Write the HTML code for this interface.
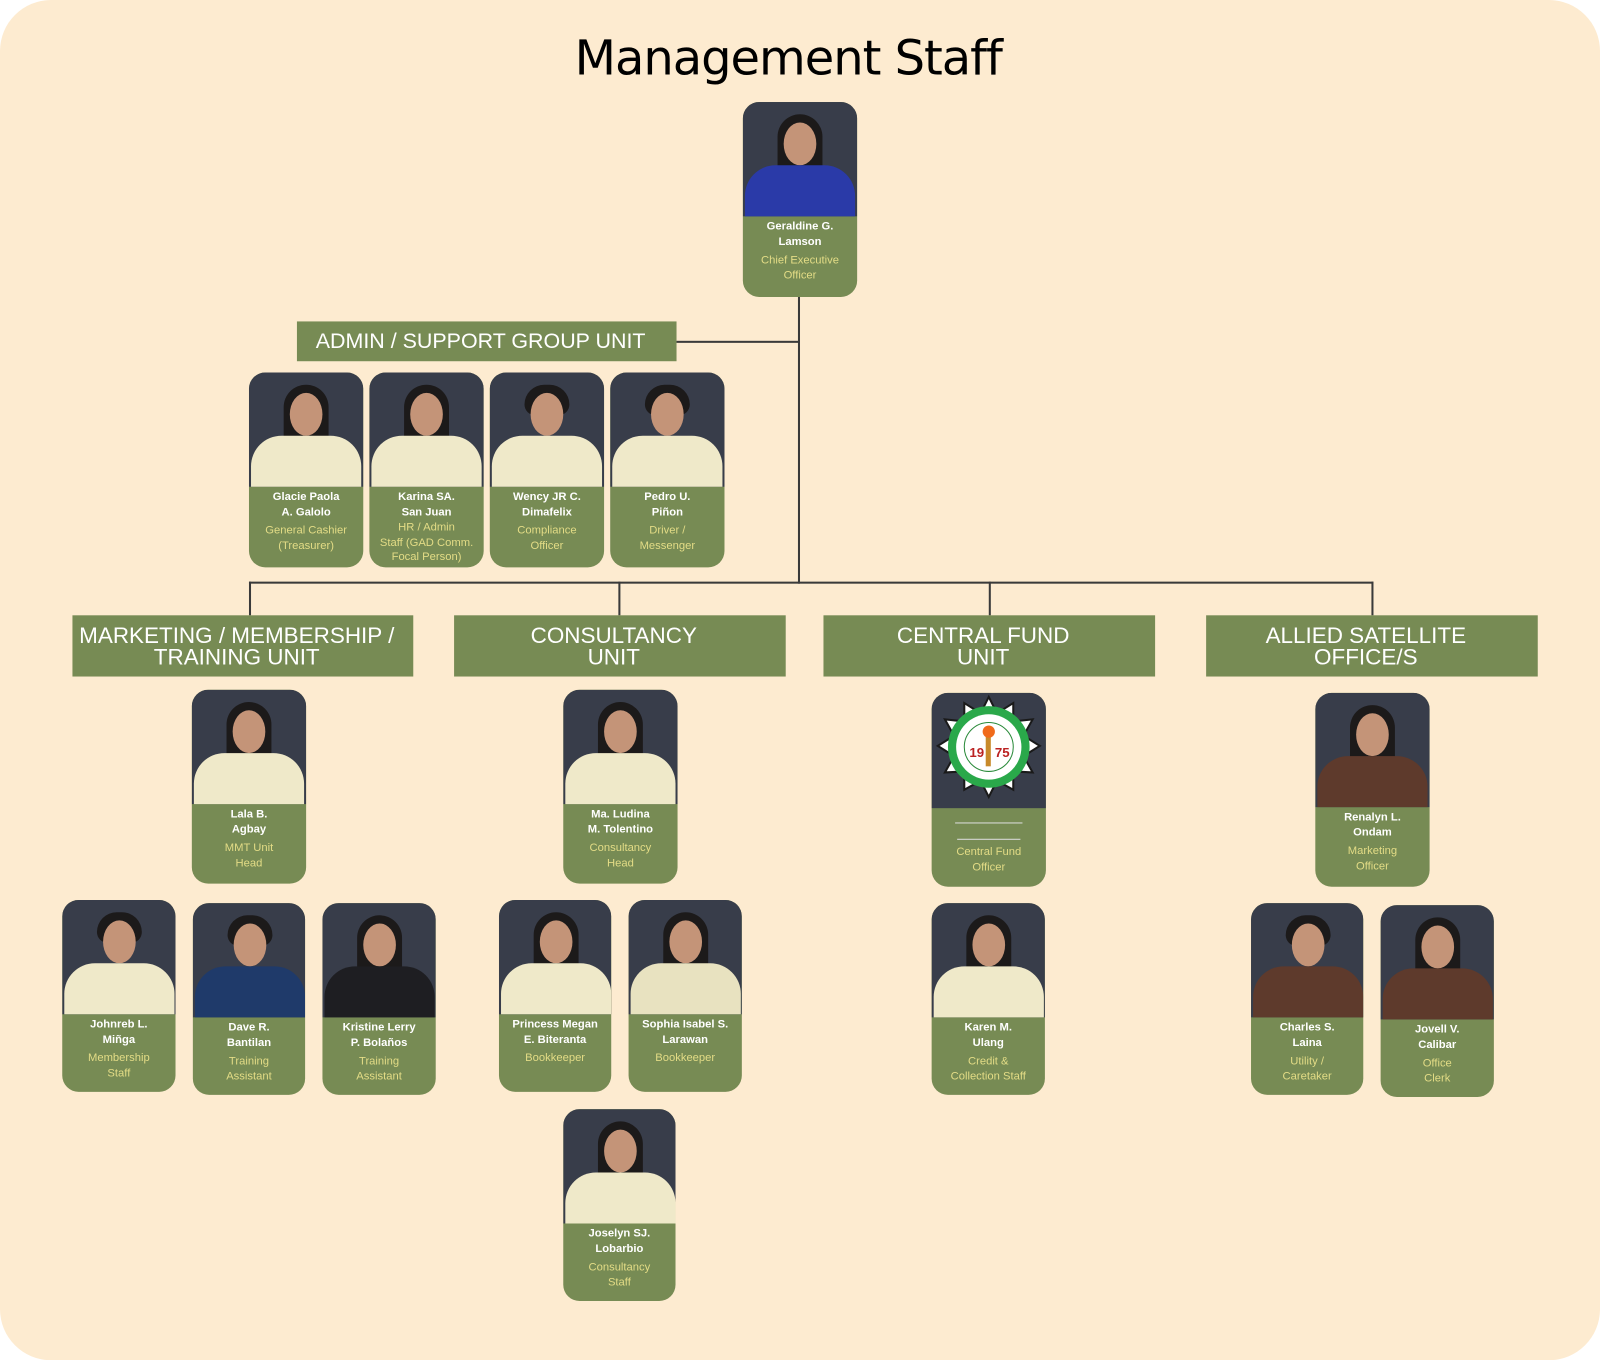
<!DOCTYPE html>
<html><head><meta charset="utf-8"><style>
html,body{margin:0;padding:0;background:#fff;}
#root{position:relative;width:1600px;height:1360px;overflow:hidden;}
#w{position:absolute;left:0;top:0;width:1568px;height:1333px;transform:scale(1.02041);transform-origin:0 0;background:#fdebd0;border-radius:50px;font-family:"Liberation Sans",Arial,sans-serif;}
.title{position:absolute;left:0;width:1545px;top:30px;text-align:center;font-size:47px;color:#000;font-family:"DejaVu Sans","Liberation Sans",sans-serif;letter-spacing:-1px;}
.ln{position:absolute;background:#3a3a3a;}
.hd{position:absolute;background:#778b54;color:#fff;font-size:22px;line-height:21px;text-align:center;display:flex;align-items:center;justify-content:center;box-sizing:border-box;padding-right:12px;}
.c{position:absolute;width:112px;height:190px;border-radius:16px;background:#778b54;overflow:hidden;text-align:center;}
.ph{position:relative;height:112px;background:#383d4a;overflow:hidden;}
.hair{position:absolute;left:34px;top:12px;width:44px;height:66px;border-radius:22px 22px 12px 12px;background:#1c1a1a;}
.face{position:absolute;left:40px;top:20px;width:32px;height:42px;border-radius:50%;background:#c49478;}
.bd{position:absolute;left:2px;top:62px;width:108px;height:60px;border-radius:30px 30px 0 0;background:#efe9c9;}
.n{color:#fff;font-weight:bold;font-size:11px;line-height:15px;margin-top:3px;}
.t{color:#e3dc86;font-size:11px;line-height:15px;margin-top:3px;}
</style></head><body><div id="root"><div id="w">
<div class="title">Management Staff</div>

<div class="ln" style="left:782px;top:291px;width:1.5px;height:281px"></div>
<div class="ln" style="left:663px;top:334px;width:120px;height:1.5px"></div>
<div class="ln" style="left:244px;top:570px;width:1102px;height:1.5px"></div>
<div class="ln" style="left:244px;top:570px;width:1.5px;height:33px"></div>
<div class="ln" style="left:606px;top:570px;width:1.5px;height:33px"></div>
<div class="ln" style="left:969px;top:570px;width:1.5px;height:33px"></div>
<div class="ln" style="left:1344px;top:570px;width:1.5px;height:33px"></div>

<div class="hd" style="left:291px;top:315px;width:372px;height:39px;font-size:21px">ADMIN / SUPPORT GROUP UNIT</div>
<div class="hd" style="left:71px;top:603px;width:334px;height:60px">MARKETING / MEMBERSHIP /<br>TRAINING UNIT</div>
<div class="hd" style="left:445px;top:603px;width:325px;height:60px">CONSULTANCY<br>UNIT</div>
<div class="hd" style="left:807px;top:603px;width:325px;height:60px">CENTRAL FUND<br>UNIT</div>
<div class="hd" style="left:1182px;top:603px;width:325px;height:60px">ALLIED SATELLITE<br>OFFICE/S</div>

<div class="c" style="left:728px;top:100px;height:191px"><div class="ph"><div class="hair"></div><div class="face"></div><div class="bd" style="background:#2a3aa8"></div></div><div class="n">Geraldine G.<br>Lamson</div><div class="t">Chief Executive<br>Officer</div></div>

<div class="c" style="left:244px;top:365px;height:191px"><div class="ph"><div class="hair"></div><div class="face"></div><div class="bd"></div></div><div class="n">Glacie Paola<br>A. Galolo</div><div class="t">General Cashier<br>(Treasurer)</div></div>
<div class="c" style="left:362px;top:365px;height:191px"><div class="ph"><div class="hair"></div><div class="face"></div><div class="bd"></div></div><div class="n">Karina SA.<br>San Juan</div><div class="t" style="margin-top:0;line-height:14.5px">HR / Admin<br>Staff (GAD Comm.<br>Focal Person)</div></div>
<div class="c" style="left:480px;top:365px;height:191px"><div class="ph"><div class="hair" style="height:30px"></div><div class="face"></div><div class="bd"></div></div><div class="n">Wency JR C.<br>Dimafelix</div><div class="t">Compliance<br>Officer</div></div>
<div class="c" style="left:598px;top:365px;height:191px"><div class="ph"><div class="hair" style="height:30px"></div><div class="face"></div><div class="bd"></div></div><div class="n">Pedro U.<br>Piñon</div><div class="t">Driver /<br>Messenger</div></div>

<div class="c" style="left:188px;top:676px"><div class="ph"><div class="hair"></div><div class="face"></div><div class="bd"></div></div><div class="n">Lala B.<br>Agbay</div><div class="t">MMT Unit<br>Head</div></div>
<div class="c" style="left:552px;top:676px"><div class="ph"><div class="hair"></div><div class="face"></div><div class="bd"></div></div><div class="n">Ma. Ludina<br>M. Tolentino</div><div class="t">Consultancy<br>Head</div></div>
<div class="c" style="left:913px;top:679px"><div class="ph" style="height:113px">
<svg width="112" height="113" viewBox="0 0 112 113"><polygon points="56,4 64,20 80,10 80,28 99,26 90,42 106,52 90,62 99,78 80,77 80,95 64,86 56,102 48,86 32,95 32,77 13,78 22,62 6,52 22,42 13,26 32,28 32,10 48,20" fill="#fff" stroke="#1a1a1a" stroke-width="2"/><circle cx="56" cy="53" r="40" fill="#2aa84a"/><circle cx="56" cy="53" r="32" fill="#fff"/><circle cx="56" cy="53" r="24" fill="#fff" stroke="#2a8a3a" stroke-width="1"/><text x="37" y="63" font-size="13" font-weight="bold" fill="#b22">19</text><text x="62" y="63" font-size="13" font-weight="bold" fill="#b22">75</text><rect x="53" y="42" width="5" height="30" fill="#c88a2a"/><circle cx="56" cy="38" r="6" fill="#f06a1a"/></svg></div>
<div style="width:66px;height:1px;background:#ddd;margin:14px auto 0"></div><div style="width:62px;height:1px;background:#ddd;margin:15px auto 0"></div><div class="t" style="margin-top:5px">Central Fund<br>Officer</div></div>
<div class="c" style="left:1289px;top:679px"><div class="ph"><div class="hair"></div><div class="face"></div><div class="bd" style="background:#5e3a2c"></div></div><div class="n">Renalyn L.<br>Ondam</div><div class="t">Marketing<br>Officer</div></div>

<div class="c" style="left:61px;top:882px;height:188px;width:111px"><div class="ph"><div class="hair" style="height:30px"></div><div class="face"></div><div class="bd"></div></div><div class="n">Johnreb L.<br>Miñga</div><div class="t">Membership<br>Staff</div></div>
<div class="c" style="left:189px;top:885px;height:188px;width:110px"><div class="ph"><div class="hair" style="height:30px"></div><div class="face"></div><div class="bd" style="background:#1f3a6a"></div></div><div class="n">Dave R.<br>Bantilan</div><div class="t">Training<br>Assistant</div></div>
<div class="c" style="left:316px;top:885px;height:188px;width:111px"><div class="ph"><div class="hair"></div><div class="face"></div><div class="bd" style="background:#1e1e22"></div></div><div class="n">Kristine Lerry<br>P. Bolaños</div><div class="t">Training<br>Assistant</div></div>
<div class="c" style="left:489px;top:882px;height:188px;width:110px"><div class="ph"><div class="hair"></div><div class="face"></div><div class="bd"></div></div><div class="n">Princess Megan<br>E. Biteranta</div><div class="t">Bookkeeper</div></div>
<div class="c" style="left:616px;top:882px;height:188px;width:111px"><div class="ph"><div class="hair"></div><div class="face"></div><div class="bd" style="background:#e8e2c0"></div></div><div class="n">Sophia Isabel S.<br>Larawan</div><div class="t">Bookkeeper</div></div>
<div class="c" style="left:913px;top:885px;height:188px;width:111px"><div class="ph"><div class="hair"></div><div class="face"></div><div class="bd"></div></div><div class="n">Karen M.<br>Ulang</div><div class="t">Credit &amp;<br>Collection Staff</div></div>
<div class="c" style="left:1226px;top:885px;height:188px;width:110px"><div class="ph"><div class="hair" style="height:30px"></div><div class="face"></div><div class="bd" style="background:#5e3a2c"></div></div><div class="n">Charles S.<br>Laina</div><div class="t">Utility /<br>Caretaker</div></div>
<div class="c" style="left:1353px;top:887px;height:188px;width:111px"><div class="ph"><div class="hair"></div><div class="face"></div><div class="bd" style="background:#5e3a2c"></div></div><div class="n">Jovell V.<br>Calibar</div><div class="t">Office<br>Clerk</div></div>
<div class="c" style="left:552px;top:1087px;height:188px;width:110px"><div class="ph"><div class="hair"></div><div class="face"></div><div class="bd"></div></div><div class="n">Joselyn SJ.<br>Lobarbio</div><div class="t">Consultancy<br>Staff</div></div>

</div></div></body></html>
